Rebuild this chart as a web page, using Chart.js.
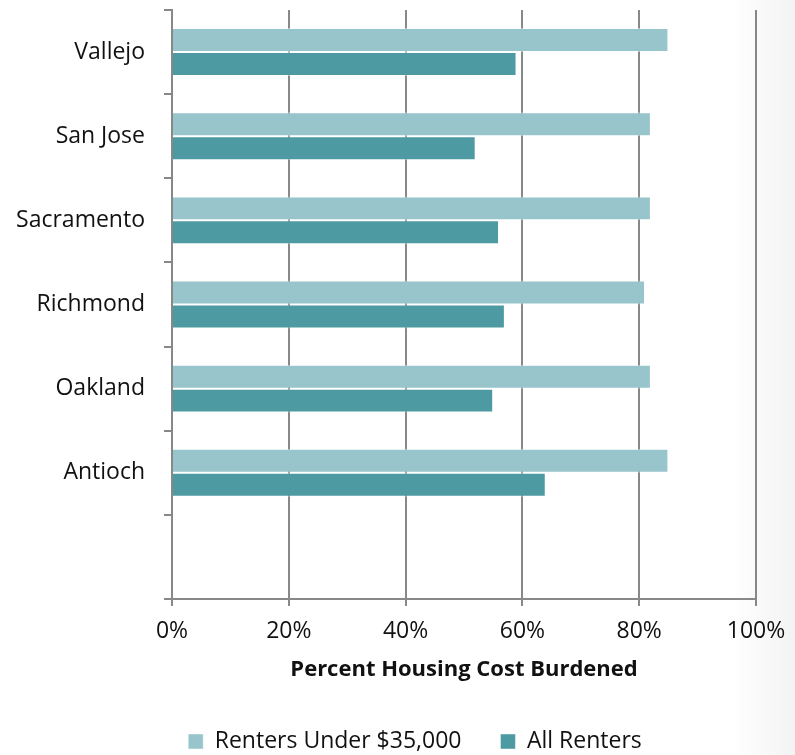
<!DOCTYPE html>
<html>
<head>
<meta charset="utf-8">
<script src="https://cdn.jsdelivr.net/npm/chart.js@4"></script>
<style>
  html, body { margin: 0; padding: 0; }
  body {
    width: 795px; height: 755px; overflow: hidden;
    background: linear-gradient(to right, #ffffff 0%, #ffffff 92%, #f3f3f3 100%);
  }
  #wrap { position: relative; width: 795px; height: 755px; }
</style>
</head>
<body>
<div id="wrap"><canvas id="chart"></canvas></div>
<script>
// cities top to bottom, last slot is left empty like the original
const cities = ['Vallejo', 'San Jose', 'Sacramento', 'Richmond', 'Oakland', 'Antioch', ''];
const under35k = [85, 82, 82, 81, 82, 85, null];
const allRenters = [59, 52, 56, 57, 55, 64, null];
const xTicks = [0, 20, 40, 60, 80, 100];

const FONT = "'Open Sans', 'Noto Sans', sans-serif";
const GRID = '#888888';

Chart.defaults.font.family = FONT;
Chart.defaults.color = '#111';

// nudge the legend a bit right so it sits under the plot like the original
const legendShift = {
    id: 'legendShift',
    afterLayout(chart) {
        if (chart.legend) {
            chart.legend.left += 37;
            chart.legend.right += 37;
        }
    }
};

new Chart(document.getElementById('chart'), {
    type: 'bar',
    data: {
        labels: cities,
        datasets: [
            {
                label: 'Renters Under $35,000',
                data: under35k,
                backgroundColor: '#97C5CB',
                borderColor: 'rgba(255,255,255,0.45)',
                borderWidth: 1
            },
            {
                label: 'All Renters',
                data: allRenters,
                backgroundColor: '#4E9AA2',
                borderColor: 'rgba(255,255,255,0.45)',
                borderWidth: 1
            }
        ]
    },
    plugins: [legendShift],
    options: {
        indexAxis: 'y',
        responsive: true,
        maintainAspectRatio: false,
        animation: false,
        categoryPercentage: 0.57,
        barPercentage: 1.0,
        layout: { padding: { top: 10, right: 39, left: 0, bottom: 0 } },
        scales: {
            x: {
                min: 0,
                max: 100,
                afterBuildTicks: (scale) => {
                    scale.ticks = xTicks.map(v => ({ value: v }));
                },
                afterFit: (scale) => {
                    scale.height = 92;
                    scale.paddingLeft = 0;
                    scale.paddingRight = 0;
                },
                grid: { color: GRID, lineWidth: 2, tickLength: 7 },
                border: { color: GRID, width: 2 },
                ticks: {
                    padding: 12,
                    font: { size: 23 },
                    color: '#111',
                    callback: (v) => v + '%'
                },
                title: {
                    display: true,
                    text: 'Percent Housing Cost Burdened',
                    font: { size: 22, weight: 'bold' },
                    color: '#111',
                    padding: { top: 0, bottom: 8 }
                }
            },
            y: {
                afterFit: (scale) => {
                    scale.width = 172;
                    scale.paddingTop = 0;
                    scale.paddingBottom = 0;
                },
                grid: { color: GRID, lineWidth: 2, drawOnChartArea: false, tickLength: 8 },
                border: { color: GRID, width: 2 },
                ticks: { padding: 19, font: { size: 23 }, color: '#111' }
            }
        },
        plugins: {
            legend: {
                position: 'bottom',
                maxHeight: 64,
                labels: {
                    boxWidth: 15,
                    boxHeight: 15,
                    padding: 39,
                    font: { size: 23 },
                    color: '#111'
                }
            },
            tooltip: { enabled: false }
        }
    }
});
</script>
</body>
</html>
